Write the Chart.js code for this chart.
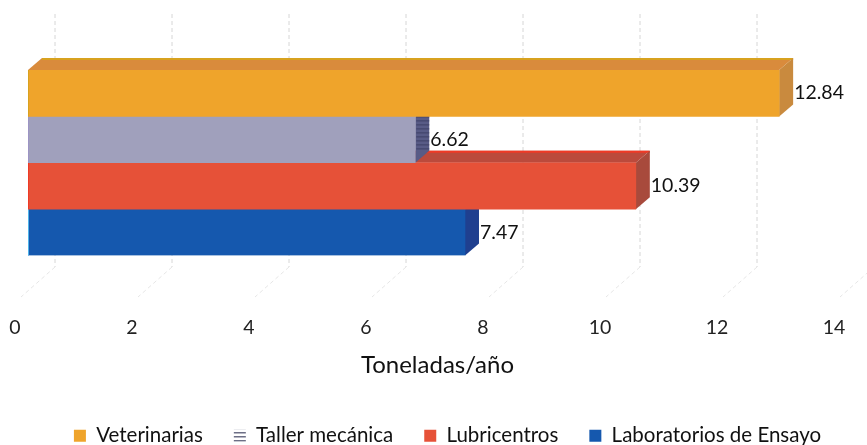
<!DOCTYPE html>
<html>
<head>
<meta charset="utf-8">
<style>
  body { margin: 0; background: #fff; }
</style>
</head>
<body>
<canvas id="myChart_bar" width="867" height="445"></canvas>
<script src="https://cdn.jsdelivr.net/npm/chart.js@4"></script>
<script>
const series_names = ['Veterinarias', 'Taller mecánica', 'Lubricentros', 'Laboratorios de Ensayo'];
const veterinarias = [12.84];
const taller_mecanica = [6.62];
const lubricentros = [10.39];
const laboratorios = [7.47];
const categories = [''];
const axis_title = 'Toneladas/año';

const front_colors = ['#efa42b', '#a0a0bc', '#e65138', '#1558ae'];
const top_colors = ['#d98b3c', '#8f8fae', '#bb4a3c', '#123f8c'];
const side_colors = ['#c98a3e', '#585b86', '#a84a3c', '#1f3f8f'];
const edge_colors = ['#d8a21f', '#9c94c4', '#ef3a26', '#4fb4ea'];
const font_name = 'Lato, sans-serif';

const depth_x = 14;
const depth_y = 12;

const myChart_bar = document.getElementById('myChart_bar');

function poly(ctx, pts, color) {
  ctx.fillStyle = color;
  ctx.beginPath();
  pts.forEach((p, i) => i ? ctx.lineTo(p[0], p[1]) : ctx.moveTo(p[0], p[1]));
  ctx.closePath();
  ctx.fill();
}

// striped swatch for the Taller mecánica legend entry
function stripes() {
  const c = document.createElement('canvas');
  c.width = 4;
  c.height = 4;
  const g = c.getContext('2d');
  g.fillStyle = '#fff';
  g.fillRect(0, 0, 4, 4);
  g.fillStyle = '#6d6f86';
  g.fillRect(0, 0, 4, 1.5);
  return g.createPattern(c, 'repeat');
}

// walls: dashed gridlines on the back and the diagonal floor lines
const wall = {
  id: 'wall',
  beforeDatasetsDraw(chart) {
    const ctx = chart.ctx;
    const x = chart.scales.x;
    ctx.save();
    ctx.setLineDash([4, 3]);
    x.ticks.forEach(t => {
      const px = x.getPixelForValue(t.value) + 27;
      ctx.strokeStyle = '#d6d6d6';
      ctx.beginPath();
      ctx.moveTo(px, 14);
      ctx.lineTo(px, 267);
      ctx.stroke();
      ctx.strokeStyle = '#e6e6e6';
      ctx.beginPath();
      ctx.moveTo(px, 267);
      ctx.lineTo(px - 34, 297);
      ctx.stroke();
    });
    ctx.restore();
  }
};

// top and side faces, painted just before each bar's front
const faces = {
  id: 'faces',
  beforeDatasetDraw(chart, args) {
    const ctx = chart.ctx;
    const i = args.index;
    const bar = args.meta.data[0];
    const x0 = chart.scales.x.getPixelForValue(0);
    const x1 = bar.x;
    const y0 = bar.y - bar.height / 2;
    const y1 = bar.y + bar.height / 2;
    ctx.save();
    poly(ctx, [[x0, y0], [x0 + depth_x, y0 - depth_y], [x1 + depth_x, y0 - depth_y], [x1, y0]], top_colors[i]);
    poly(ctx, [[x0 + depth_x, y0 - depth_y], [x1 + depth_x, y0 - depth_y], [x1 + depth_x, y0 - depth_y + 2], [x0 + depth_x, y0 - depth_y + 2]], edge_colors[i]);
    poly(ctx, [[x1, y0], [x1 + depth_x, y0 - depth_y], [x1 + depth_x, y1 - depth_y], [x1, y1]], side_colors[i]);
    if (i === 1) {
      ctx.fillStyle = '#3e4066';
      for (let y = y0; y < y1 - depth_y; y += 4) {
        ctx.fillRect(x1 + 1, y, depth_x - 1, 1);
      }
    }
    ctx.restore();
  },
  afterDatasetDraw(chart, args) {
    const ctx = chart.ctx;
    const i = args.index;
    const bar = args.meta.data[0];
    const x0 = chart.scales.x.getPixelForValue(0);
    ctx.save();
    ctx.fillStyle = edge_colors[i];
    ctx.fillRect(x0, bar.y - bar.height / 2, 1, bar.height);
    ctx.restore();
  }
};

// value labels next to the side face of each bar
const values = {
  id: 'values',
  afterDatasetsDraw(chart) {
    const ctx = chart.ctx;
    ctx.save();
    ctx.font = '19.5px ' + font_name;
    ctx.fillStyle = '#111';
    ctx.textBaseline = 'middle';
    chart.data.datasets.forEach((d, i) => {
      const bar = chart.getDatasetMeta(i).data[0];
      ctx.fillText(d.data[0].toFixed(2), bar.x + depth_x + 1, bar.y);
    });
    ctx.restore();
  }
};

// legend sits a little right of the middle and lower than the layout puts it
const nudge = {
  id: 'nudge',
  afterLayout(chart) {
    chart.legend.left += 10;
    chart.legend.right += 10;
    chart.legend.top += 11;
    chart.legend.bottom += 11;
  }
};

new Chart(myChart_bar, {
  type: 'bar',
  data: {
    labels: categories,
    datasets: [
      { label: series_names[0], data: veterinarias, backgroundColor: front_colors[0] },
      { label: series_names[1], data: taller_mecanica, backgroundColor: front_colors[1] },
      { label: series_names[2], data: lubricentros, backgroundColor: front_colors[2] },
      { label: series_names[3], data: laboratorios, backgroundColor: front_colors[3] }
    ]
  },
  plugins: [wall, faces, values, nudge],
  options: {
    indexAxis: 'y',
    responsive: false,
    animation: false,
    barPercentage: 1,
    categoryPercentage: 1,
    layout: { padding: { top: 70, left: 28, right: 20, bottom: 0 } },
    scales: {
      y: { display: false },
      x: {
        min: 0,
        max: 14,
        afterFit(axis) { axis.height = 128; },
        grid: { display: false, tickLength: 58 },
        border: { display: false },
        ticks: {
          stepSize: 2,
          maxRotation: 0,
          labelOffset: -13,
          padding: 3,
          color: '#222',
          font: { family: font_name, size: 19.5 }
        },
        title: {
          display: true,
          text: axis_title,
          color: '#111',
          padding: { top: 4, bottom: 4 },
          font: { family: font_name, size: 24 }
        }
      }
    },
    plugins: {
      tooltip: { enabled: false },
      legend: {
        position: 'bottom',
        labels: {
          boxWidth: 12,
          boxHeight: 12,
          padding: 31,
          color: '#111',
          font: { family: font_name, size: 20.5 },
          generateLabels(chart) {
            const items = Chart.defaults.plugins.legend.labels.generateLabels(chart);
            items[1].fillStyle = stripes();
            return items;
          }
        }
      }
    }
  }
});
</script>
</body>
</html>
